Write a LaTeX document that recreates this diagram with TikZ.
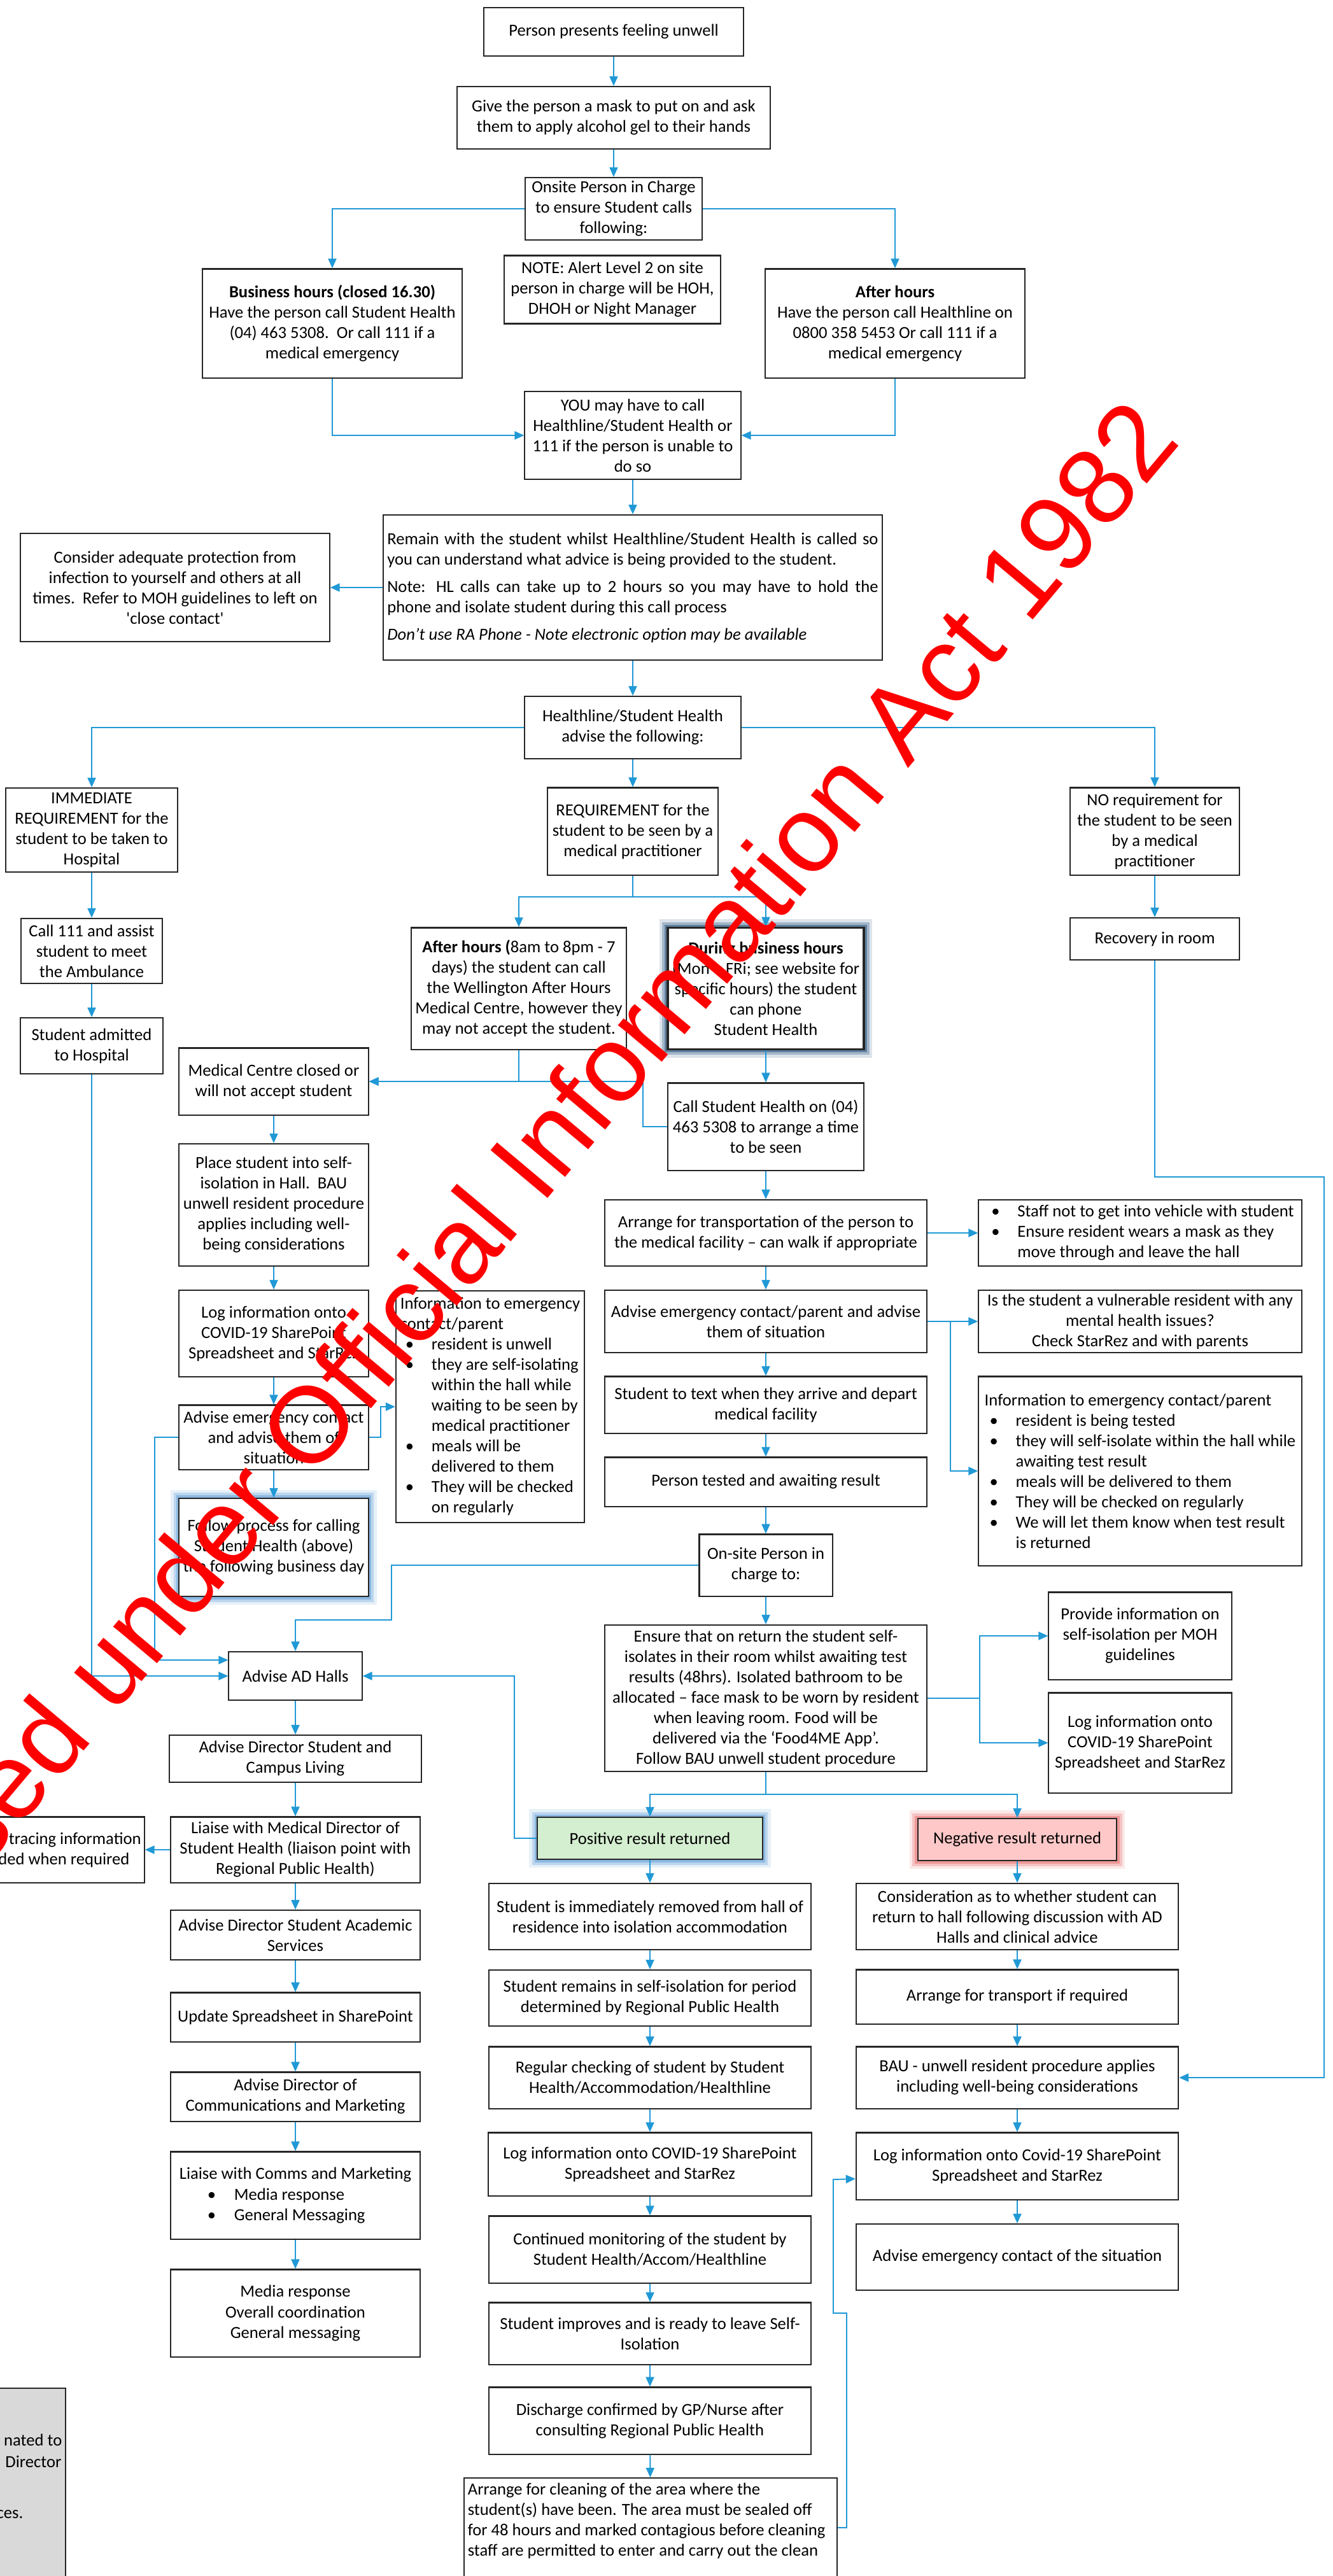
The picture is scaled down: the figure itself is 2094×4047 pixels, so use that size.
\documentclass[tikz,border=0pt]{standalone}
\usepackage{fontspec}
\setmainfont{Carlito}
\newfontfamily\wmfont{Liberation Sans}
\usepackage{xcolor}
\usetikzlibrary{arrows.meta, positioning, calc}
\definecolor{flowblue}{RGB}{32,153,214}
\definecolor{posgreen}{RGB}{212,238,208}
\definecolor{negred}{RGB}{255,200,200}
\definecolor{glowblue}{RGB}{91,155,213}
\definecolor{glownavy}{RGB}{31,78,121}
\definecolor{glowred}{RGB}{232,110,110}
\definecolor{boxgray}{RGB}{217,217,217}
\setlength{\parindent}{0pt}
\newcommand{\bulit}{\makebox[0.49cm][l]{\hspace{0.08cm}\textbullet}}
\newcommand{\contin}{\hspace*{0.49cm}}

\begin{document}
\begin{tikzpicture}[x=0.01cm, y=-0.01cm, >={Triangle[length=0.15cm, width=0.13cm]},
        blk/.style={draw=black!85, line width=0.6pt, fill=white, align=center,
                    inner sep=0.05cm, font=\fontsize{7.57}{9.1}\selectfont},
        lst/.style={blk, align=left},
        flow/.style={->, draw=flowblue, line width=0.55pt},
        glow/.style={preaction={draw=#1, line width=0.26cm, opacity=0.15},
                     preaction={draw=#1, line width=0.17cm, opacity=0.3},
                     preaction={draw=#1, line width=0.09cm, opacity=0.5}},
        frag/.style={inner sep=0pt, font=\fontsize{7.57}{9.1}\selectfont},
        wm/.style={text=red, font=\wmfont\fontsize{48.3}{50}\selectfont,
                   rotate=50, inner sep=0pt}]

      \fill[white] (0,0) rectangle (2094,4047);
      \useasboundingbox (0,0) rectangle (2094,4047);

      % top of the chart
      \node[blk, minimum width=4.08cm, minimum height=0.76cm] (unwell) at (964,50) {Person presents feeling unwell};
      \node[blk, minimum width=4.92cm, minimum height=0.98cm] (mask) at (964,185) {Give the person a mask to put on and ask\\them to apply alcohol gel to their hands};
      \node[blk, minimum width=2.78cm, minimum height=0.98cm] (onsite) at (964,328) {Onsite Person in Charge\\to ensure Student calls\\following:};
      \node[blk, minimum width=3.39cm, minimum height=1.07cm] (note) at (962,455) {NOTE: Alert Level 2 on site\\person in charge will be HOH,\\DHOH or Night Manager};
      \node[blk, minimum width=4.08cm, minimum height=1.71cm] (bushrs) at (522,508) {\textbf{Business hours (closed 16.30)}\\Have the person call Student Health\\(04) 463 5308.\ \ Or call 111 if a\\medical emergency};
      \node[blk, minimum width=4.08cm, minimum height=1.71cm] (afthrs) at (1406,508) {\textbf{After hours}\\Have the person call Healthline on\\0800 358 5453 Or call 111 if a\\medical emergency};
      \node[blk, minimum width=3.39cm, minimum height=1.38cm] (youcall) at (994,684) {YOU may have to call\\Healthline/Student Health or\\111 if the person is unable to\\do so};
      \node[blk, minimum width=7.83cm, minimum height=2.28cm, text width=7.71cm, align=justify] (remain) at (994,923) {Remain with the student whilst Healthline/Student Health is called so you can understand what advice is being provided to the student.\par\vspace{0.11cm}Note: HL calls can take up to 2 hours so you may have to hold the\linebreak phone and isolate student during this call process\par\vspace{0.11cm}\textit{Don't use RA Phone - Note electronic option may be available}};
      \node[blk, minimum width=4.85cm, minimum height=1.70cm] (protect) at (275,923) {Consider adequate protection from\\infection to yourself and others at all\\times.\ \ Refer to MOH guidelines to left on\\\textquotesingle close contact\textquotesingle};
      \node[blk, minimum width=3.39cm, minimum height=0.98cm] (advise) at (994,1143) {Healthline/Student Health\\advise the following:};

      % three outcomes
      \node[blk, minimum width=2.70cm, minimum height=1.32cm] (immed) at (144,1304) {IMMEDIATE\\REQUIREMENT for the\\student to be taken to\\Hospital};
      \node[blk, minimum width=2.67cm, minimum height=1.37cm] (seen) at (994,1306) {REQUIREMENT for the\\student to be seen by a\\medical practitioner};
      \node[blk, minimum width=2.66cm, minimum height=1.37cm] (noreq) at (1814,1306) {NO requirement for\\the student to be seen\\by a medical\\practitioner};
      \node[blk, minimum width=2.22cm, minimum height=1.02cm] (amb) at (144,1494) {Call 111 and assist\\student to meet\\the Ambulance};
      \node[blk, minimum width=2.24cm, minimum height=0.88cm] (hosp) at (144,1643) {Student admitted\\to Hospital};
      \node[blk, minimum width=2.66cm, minimum height=0.66cm] (recov) at (1814,1475) {Recovery in room};
      \node[blk, minimum width=3.38cm, minimum height=1.91cm] (ahmed) at (815,1553) {\textbf{After hours (}8am to 8pm - 7\\days) the student can call\\the Wellington After Hours\\Medical Centre, however they\\may not accept the student.};
      \node[blk, glow=glownavy, line width=1pt, minimum width=3.08cm, minimum height=1.91cm] (bizhrs) at (1203,1553) {\textbf{During business hours}\\(Mon \textendash{} FRi; see website for\\specific hours) the student\\can phone\\Student Health};

      % left column
      \node[blk, minimum width=2.97cm, minimum height=1.05cm] (closed) at (430,1699) {Medical Centre closed or\\will not accept student};
      \node[blk, minimum width=2.97cm, minimum height=1.92cm] (isolate) at (430,1893) {Place student into self-\\isolation in Hall.\ \ BAU\\unwell resident procedure\\applies including well-\\being considerations};
      \node[blk, minimum width=2.97cm, minimum height=1.36cm] (logl) at (430,2095) {Log information onto\\COVID-19 SharePoint\\Spreadsheet and StarRez};
      \node[lst, minimum width=2.96cm, minimum height=3.63cm] (infol) at (770,2210) {Information to emergency\\contact/parent\\\bulit resident is unwell\\\bulit they are self-isolating\\\contin within the hall while\\\contin waiting to be seen by\\\contin medical practitioner\\\bulit meals will be\\\contin delivered to them\\\bulit They will be checked\\\contin on regularly};
      \node[blk, minimum width=2.97cm, minimum height=1.01cm, inner ysep=0.03cm] (advl) at (430,2258) {Advise emergency contact\\and advise them of\\situation};
      \node[blk, glow=glowblue, minimum width=2.97cm, minimum height=1.54cm] (follow) at (430,2431) {Follow process for calling\\Student Health (above)\\the following business day};

      % middle column
      \node[blk, minimum width=3.08cm, minimum height=1.37cm] (callsh) at (1203,1770) {Call Student Health on (04)\\463 5308 to arrange a time\\to be seen};
      \node[blk, minimum width=5.06cm, minimum height=1.04cm] (transp) at (1203,1937) {Arrange for transportation of the person to\\the medical facility \textendash{} can walk if appropriate};
      \node[lst, minimum width=5.07cm, minimum height=1.04cm] (staff) at (1791,1937) {\bulit Staff not to get into vehicle with student\\\bulit Ensure resident wears a mask as they\\\contin move through and leave the hall};
      \node[blk, minimum width=5.06cm, minimum height=0.98cm] (advm) at (1203,2076) {Advise emergency contact/parent and advise\\them of situation};
      \node[blk, minimum width=5.07cm, minimum height=0.98cm, inner ysep=0.03cm] (vuln) at (1791,2076) {Is the student a vulnerable resident with any\\mental health issues?\\Check StarRez and with parents};
      \node[blk, minimum width=5.06cm, minimum height=0.89cm] (textarr) at (1203,2207) {Student to text when they arrive and depart\\medical facility};
      \node[lst, minimum width=5.07cm, minimum height=2.97cm] (infor) at (1791,2311) {Information to emergency contact/parent\\\bulit resident is being tested\\\bulit they will self-isolate within the hall while\\\contin awaiting test result\\\bulit meals will be delivered to them\\\bulit They will be checked on regularly\\\bulit We will let them know when test result\\\contin is returned};
      \node[blk, minimum width=5.06cm, minimum height=0.77cm] (tested) at (1203,2328) {Person tested and awaiting result};
      \node[blk, minimum width=2.09cm, minimum height=0.97cm] (onsite2) at (1203,2459) {On-site Person in\\charge to:};
      \node[blk, minimum width=5.06cm, minimum height=2.30cm] (ensure) at (1203,2668) {Ensure that on return the student self-\\isolates in their room whilst awaiting test\\results (48hrs). Isolated bathroom to be\\allocated \textendash{} face mask to be worn by resident\\when leaving room. Food will be\\delivered via the `Food4ME App'.\\Follow BAU unwell student procedure};
      \node[blk, minimum width=2.87cm, minimum height=1.37cm] (mohinfo) at (1791,2570) {Provide information on\\self-isolation per MOH\\guidelines};
      \node[blk, minimum width=2.87cm, minimum height=1.57cm] (logr) at (1791,2738) {Log information onto\\COVID-19 SharePoint\\Spreadsheet and StarRez};

      % AD Halls chain
      \node[blk, minimum width=2.09cm, minimum height=0.76cm] (adhalls) at (464,2633) {Advise AD Halls};
      \node[blk, minimum width=3.95cm, minimum height=0.74cm] (dirscl) at (464,2763) {Advise Director Student and\\Campus Living};
      \node[blk, minimum width=3.0cm, minimum height=1.03cm] (tracing) at (73,2906) {Contact tracing information\\provided when required};
      \node[blk, minimum width=3.91cm, minimum height=1.03cm] (liaise) at (464,2906) {Liaise with Medical Director of\\Student Health (liaison point with\\Regional Public Health)};
      \node[blk, minimum width=3.91cm, minimum height=0.78cm] (dirsas) at (464,3040) {Advise Director Student Academic\\Services};
      \node[blk, minimum width=3.91cm, minimum height=0.77cm] (update) at (464,3169) {Update Spreadsheet in SharePoint};
      \node[blk, minimum width=3.91cm, minimum height=0.77cm] (dircm) at (464,3294) {Advise Director of\\Communications and Marketing};
      \node[lst, minimum width=3.91cm, minimum height=1.37cm] (comms) at (464,3449) {Liaise with Comms and Marketing\\\hspace*{0.44cm}\makebox[0.42cm][l]{\textbullet}Media response\\\hspace*{0.44cm}\makebox[0.42cm][l]{\textbullet}General Messaging};
      \node[blk, minimum width=3.91cm, minimum height=1.37cm] (media) at (464,3634) {Media response\\Overall coordination\\General messaging};
      \node[blk, fill=boxgray, anchor=north east, minimum width=3cm, minimum height=3.6cm] (grey) at (104,3751) {};
      \node[frag, anchor=base east] (g1) at (98,3842) {nated to};
      \node[frag, anchor=base east] (g2) at (97,3876) {Director};
      \node[frag, anchor=base east] (g3) at (37,3956) {ces.};

      % results
      \node[blk, glow=glowblue, fill=posgreen, minimum width=3.53cm, minimum height=0.66cm] (pos) at (1021,2888) {Positive result returned};
      \node[blk, glow=glowred, fill=negred, minimum width=3.12cm, minimum height=0.66cm] (neg) at (1598,2890) {Negative result returned};
      \node[blk, minimum width=5.06cm, minimum height=1.04cm] (removed) at (1021,3011) {Student is immediately removed from hall of\\residence into isolation accommodation};
      \node[blk, minimum width=5.06cm, minimum height=0.88cm] (remains) at (1021,3139) {Student remains in self-isolation for period\\determined by Regional Public Health};
      \node[blk, minimum width=5.06cm, minimum height=0.97cm] (regular) at (1021,3264) {Regular checking of student by Student\\Health/Accommodation/Healthline};
      \node[blk, minimum width=5.07cm, minimum height=0.99cm] (logp) at (1021,3400) {Log information onto COVID-19 SharePoint\\Spreadsheet and StarRez};
      \node[blk, minimum width=5.06cm, minimum height=1.05cm] (monitor) at (1021,3534) {Continued monitoring of the student by\\Student Health/Accom/Healthline};
      \node[blk, minimum width=5.06cm, minimum height=0.97cm] (improve) at (1021,3666) {Student improves and is ready to leave Self-\\Isolation};
      \node[blk, minimum width=5.06cm, minimum height=1.05cm] (discharge) at (1021,3803) {Discharge confirmed by GP/Nurse after\\consulting Regional Public Health};
      \node[blk, anchor=north, inner xsep=0.06cm, inner ysep=0.08cm] (clean) at (1022,3892) {\parbox[t][2.3cm][t]{5.74cm}{\raggedright Arrange for cleaning of the area where the\\student(s) have been. The area must be sealed off\\for 48 hours and marked contagious before cleaning\\staff are permitted to enter and carry out the clean}};
      \node[blk, minimum width=5.06cm, minimum height=1.04cm] (consid) at (1598,3011) {Consideration as to whether student can\\return to hall following discussion with AD\\Halls and clinical advice};
      \node[blk, minimum width=5.06cm, minimum height=0.85cm] (tport) at (1598,3137) {Arrange for transport if required};
      \node[blk, minimum width=5.06cm, minimum height=0.97cm] (bau) at (1598,3264) {BAU - unwell resident procedure applies\\including well-being considerations};
      \node[blk, minimum width=5.06cm, minimum height=1.05cm] (logn) at (1598,3403) {Log information onto Covid-19 SharePoint\\Spreadsheet and StarRez};
      \node[blk, minimum width=5.06cm, minimum height=1.04cm] (advemc) at (1598,3546) {Advise emergency contact of the situation};

      \coordinate (split) at (994,1409);
      \coordinate (rturn) at (2080,1849);
      \coordinate (oturn) at (615,2545);
      \coordinate (esplit) at (1203,2819);
      \coordinate (pturn) at (808,2633);
      \coordinate (cturn1) at (1330,3634);
      \coordinate (cturn2) at (1309,3424);

      \draw[flow] (unwell) -- (mask);
      \draw[flow] (mask) -- (onsite);
      \draw[flow] (onsite.west) -| (bushrs.north);
      \draw[flow] (onsite.east) -| (afthrs.north);
      \draw[flow] (bushrs.south) |- (youcall.west);
      \draw[flow] (afthrs.south) |- (youcall.east);
      \draw[flow] (youcall) -- (remain);
      \draw[flow] (remain.west) -- (protect.east);
      \draw[flow] (remain) -- (advise);
      \draw[flow] (advise.west) -| (immed.north);
      \draw[flow] (advise.east) -| (noreq.north);
      \draw[flow] (advise) -- (seen);
      \draw[flow] (immed) -- (amb);
      \draw[flow] (amb) -- (hosp);
      \draw[flow] (noreq) -- (recov);
      \draw[flow] (recov.south) |- (rturn) |- (bau.east);
      \draw[flow] (seen.south) -- (split) -| (ahmed.north);
      \draw[flow] (split) -| (bizhrs.north);
      \draw[flow] (ahmed.south) |- (closed.east);
      \draw[flow] (callsh.west) -- ++(-38,0) |- (closed.east);
      \draw[flow] (bizhrs) -- (callsh);
      \draw[flow] (callsh) -- (transp);
      \draw[flow] (transp) -- (staff);
      \draw[flow] (transp) -- (advm);
      \draw[flow] (advm) -- (vuln);
      \draw[flow] ($(advm.east)+(36,0)$) |- (infor.west);
      \draw[flow] (advm) -- (textarr);
      \draw[flow] (textarr) -- (tested);
      \draw[flow] (tested) -- (onsite2);
      \draw[flow] (onsite2) -- (ensure);
      \draw[flow] (ensure.east) -- ++(82,0) |- (mohinfo.west);
      \draw[flow] (ensure.east) -- ++(82,0) |- (logr.west);
      \draw[flow] (ensure.south) -- (esplit) -| (pos.north);
      \draw[flow] (esplit) -| (neg.north);
      \draw[flow] (onsite2.west) -| (oturn) -| (adhalls.north);
      \draw[flow] (pos.west) -| (pturn) -- (adhalls.east);

      \draw[flow] (closed) -- (isolate);
      \draw[flow] (isolate) -- (logl);
      \draw[flow] (logl) -- (advl);
      \draw[flow] (advl) -- (follow);
      \draw[flow] (advl.east) -- ++(18,0) |- (infol.west);
      \draw[flow] (advl.west) -- ++(-37,0) |- ($(adhalls.west)+(0,-25)$);
      \draw[flow] (hosp.south) |- (adhalls.west);

      \draw[flow] (adhalls) -- (dirscl);
      \draw[flow] (dirscl) -- (liaise);
      \draw[flow] (liaise) -- (tracing);
      \draw[flow] (liaise) -- (dirsas);
      \draw[flow] (dirsas) -- (update);
      \draw[flow] (update) -- (dircm);
      \draw[flow] (dircm) -- (comms);
      \draw[flow] (comms) -- (media);

      \draw[flow] (pos) -- (removed);
      \draw[flow] (removed) -- (remains);
      \draw[flow] (remains) -- (regular);
      \draw[flow] (regular) -- (logp);
      \draw[flow] (logp) -- (monitor);
      \draw[flow] (monitor) -- (improve);
      \draw[flow] (improve) -- (discharge);
      \draw[flow] (discharge) -- (clean);
      \draw[flow] ($(clean.north east)+(0,79)$) -| (cturn1) -| (cturn2) -- ($(logn.west)+(0,20)$);

      \draw[flow] (neg) -- (consid);
      \draw[flow] (consid) -- (tport);
      \draw[flow] (tport) -- (bau);
      \draw[flow] (bau) -- (logn);
      \draw[flow] (logn) -- (advemc);

      \node[wm] (stamp) at (726,1948) {Released under Official Information Act 1982};
    \end{tikzpicture}
\end{document}
